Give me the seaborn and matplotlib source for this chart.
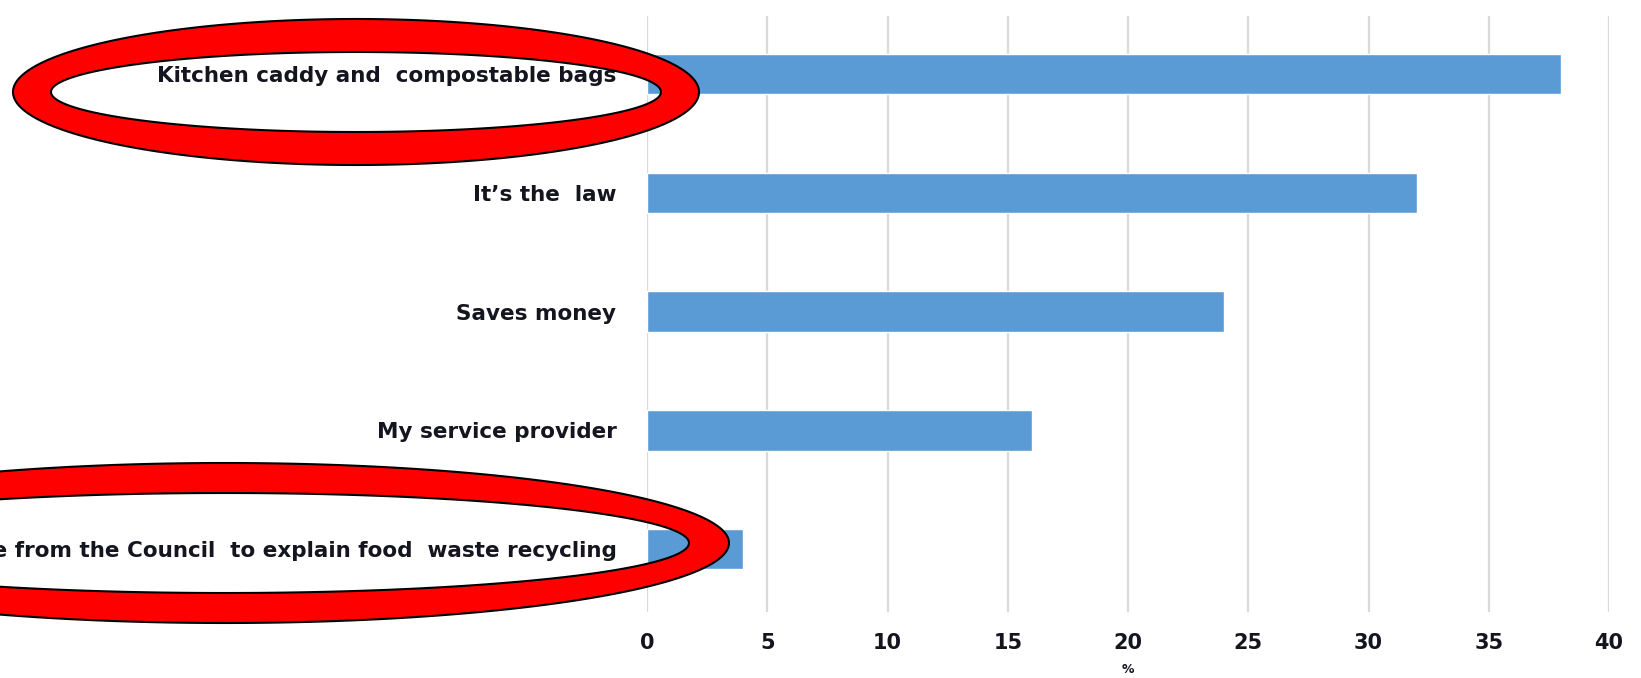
import numpy as np
import pandas as pd
import matplotlib
matplotlib.use("Agg")
import matplotlib.pyplot as plt
from matplotlib.path import Path
from matplotlib.patches import PathPatch
import seaborn as sns

# Reasons given for recycling food waste (% of respondents)
reasons = [
    "Kitchen caddy and  compostable bags",
    "It\u2019s the  law",
    "Saves money",
    "My service provider",
    "Guide from the Council  to explain food  waste recycling",
]
percent = [38, 32, 24, 16, 4]
x_ticks = [0, 5, 10, 15, 20, 25, 30, 35, 40]

df = pd.DataFrame({"reason": reasons, "percent": percent})

W, H = 1641, 678
TEXT = "#15151f"
sns.set_theme(style="white")
plt.rcParams["font.family"] = ["DejaVu Sans"]

fig = plt.figure(figsize=(W / 100, H / 100), dpi=100)
ax = fig.add_axes([647 / W, 1 - 612 / H, (1609 - 647) / W, (612 - 16) / H])

sns.barplot(data=df, x="percent", y="reason", orient="h", color="#5B9BD5",
            saturation=1, width=0.34, ax=ax, zorder=3)

ax.set_xlim(0, 40)
ax.set_ylim(4.53, -0.49)
ax.set_xticks(x_ticks)
ax.set_xticklabels([str(t) for t in x_ticks])
ax.grid(axis="x", color="#D9D9D9", linewidth=1.6, zorder=0)
ax.grid(axis="y", visible=False)
for s in ax.spines.values():
    s.set_visible(False)
ax.tick_params(axis="both", length=0)
ax.tick_params(axis="x", pad=15, labelsize=15, labelcolor=TEXT)
ax.tick_params(axis="y", pad=22, labelsize=15.5, labelcolor=TEXT)
for lab in ax.get_xticklabels() + ax.get_yticklabels():
    lab.set_fontweight("bold")
ax.set_ylabel("")
ax.set_xlabel("%", fontsize=9, fontweight="bold", color=TEXT, labelpad=7)


def ring(cx, cy, ao, bo, ai, bi):
    """Elliptical ring in figure pixels (y measured from top)."""
    t = np.linspace(0, 2 * np.pi, 400)
    outer = np.column_stack([cx + ao * np.cos(t), cy + bo * np.sin(t)])
    inner = np.column_stack([cx + ai * np.cos(t[::-1]), cy + bi * np.sin(t[::-1])])
    verts = np.vstack([outer, inner])
    verts = np.column_stack([verts[:, 0] / W, 1 - verts[:, 1] / H])
    codes = ([Path.MOVETO] + [Path.LINETO] * (len(t) - 2) + [Path.CLOSEPOLY]) * 2
    patch = PathPatch(Path(verts, codes), facecolor="#FF0000", edgecolor="black",
                      linewidth=1.5, transform=fig.transFigure, zorder=10)
    fig.add_artist(patch)


ring(356, 92, 343, 73, 305, 40)
ring(225, 543, 504, 80, 464, 50)

fig.savefig("out.png", dpi=100)
